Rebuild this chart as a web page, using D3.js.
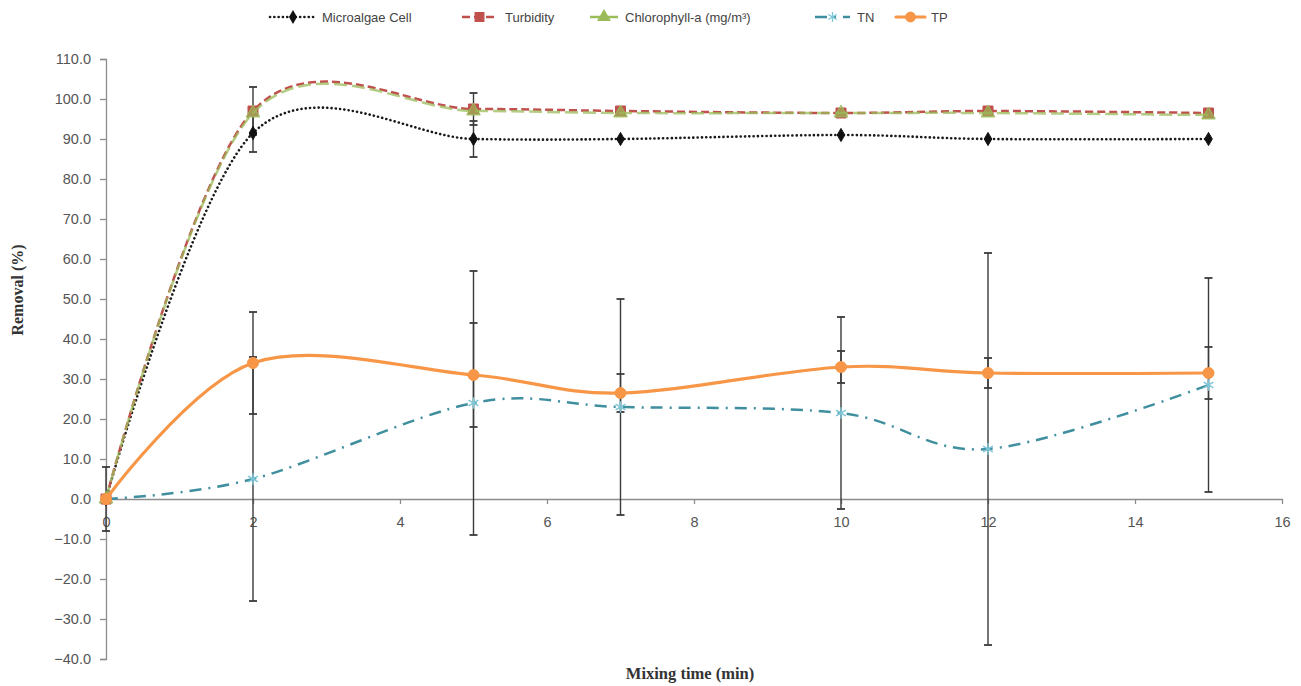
<!DOCTYPE html>
<html>
<head>
<meta charset="utf-8">
<script src="https://cdn.jsdelivr.net/npm/d3@7"></script>
<style>
  html, body { margin: 0; padding: 0; background: #fff; }
  svg { display: block; }
</style>
</head>
<body>
<div id="chart"></div>
<script>
// ---- Data ----
const mixingTime = [0, 2, 5, 7, 10, 12, 15];
const microalgae = [0, 91.5, 90.0, 90.0, 91.0, 90.0, 90.0];
const microalgaeErr = [0, 4.75, 4.5, 0, 0, 0, 0];
const turbidity = [0, 97.0, 97.5, 97.0, 96.5, 97.0, 96.5];
const turbidityErr = [0, 6.0, 4.0, 0, 0, 0, 0];
const chlorophyll = [0, 96.5, 97.0, 96.5, 96.5, 96.5, 96.0];
const chlorophyllErr = [0, 0, 0, 0, 0, 0, 0];
const tn = [0, 5.0, 24.0, 23.0, 21.5, 12.5, 28.5];
const tnErr = [8.0, 30.5, 33.0, 27.0, 24.0, 49.0, 26.75];
const tp = [0, 34.0, 31.0, 26.5, 33.0, 31.5, 31.5];
const tpErr = [0, 12.75, 13.0, 4.75, 4.0, 3.75, 6.5];
const xTicks = [0, 2, 4, 6, 8, 10, 12, 14, 16];
const yTicks = [-40, -30, -20, -10, 0, 10, 20, 30, 40, 50, 60, 70, 80, 90, 100, 110];
const seriesNames = ["Microalgae Cell", "Turbidity", "Chlorophyll-a (mg/m³)", "TN", "TP"];

// ---- Setup ----
const W = 1301, H = 686;
const svg = d3.select("#chart").append("svg").attr("width", W).attr("height", H);
const x = d3.scaleLinear().domain([0, 16]).range([106, 1282]);
const y = d3.scaleLinear().domain([-40, 110]).range([659, 59]);

const series = [
  { name: seriesNames[0], vals: microalgae, err: microalgaeErr, color: "#1a1a1a", dash: "0.1,4.2", width: 2.6, cap: "round", marker: "diamond", mfill: "#111", msize: 50 },
  { name: seriesNames[1], vals: turbidity, err: turbidityErr, color: "#c0504d", dash: "8,4", width: 2.5, cap: "butt", marker: "square", mfill: "#c0504d", msize: 100 },
  { name: seriesNames[2], vals: chlorophyll, err: chlorophyllErr, color: "#9bbb59", dash: "13,5", width: 2.5, cap: "butt", marker: "triangle", mfill: "#9bbb59", msize: 80 },
  { name: seriesNames[3], vals: tn, err: tnErr, color: "#3f8f9f", dash: "12,7,2,7", width: 2.5, cap: "butt", marker: "star", mfill: "none", msize: 90 },
  { name: seriesNames[4], vals: tp, err: tpErr, color: "#f79646", dash: null, width: 3.2, cap: "round", marker: "circle", mfill: "#f79646", msize: 95 }
];

const fontSans = "'Liberation Sans', Arial, sans-serif";
const fontSerif = "'Liberation Serif', 'Times New Roman', serif";
const axisColor = "#8c8c8c";

// ---- Y axis ----
const yAxis = d3.axisLeft(y).tickValues(yTicks).tickFormat(d3.format(".1f")).tickSize(6).tickPadding(9);
const gy = svg.append("g").attr("transform", `translate(${x(0)},0)`).call(yAxis);
gy.select(".domain").attr("stroke", axisColor).attr("stroke-width", 1.3);
gy.selectAll(".tick line").attr("stroke", axisColor).attr("stroke-width", 1.3);
gy.selectAll(".tick text").attr("fill", "#555").style("font-family", fontSans).style("font-size", "14.5px");

// ---- X axis (at y=0) ----
const xAxis = d3.axisBottom(x).tickValues(xTicks).tickFormat(d3.format("d")).tickSize(5).tickPadding(13).tickSizeOuter(0);
const gx = svg.append("g").attr("transform", `translate(0,${y(0)})`).call(xAxis);
gx.select(".domain").attr("stroke", axisColor).attr("stroke-width", 1.3);
gx.selectAll(".tick line").attr("stroke", axisColor).attr("stroke-width", 1.3);
gx.selectAll(".tick text").attr("fill", "#555").style("font-family", fontSans).style("font-size", "14.5px");

// ---- Axis titles ----
svg.append("text").attr("transform", `translate(23,290) rotate(-90)`).attr("text-anchor", "middle")
  .style("font-family", fontSerif).style("font-weight", "bold").style("font-size", "16px").attr("fill", "#333")
  .text("Removal (%)");
svg.append("text").attr("x", 690).attr("y", 679).attr("text-anchor", "middle")
  .style("font-family", fontSerif).style("font-weight", "bold").style("font-size", "16.5px").attr("fill", "#333")
  .text("Mixing time (min)");

// ---- Lines ----
const line = d3.line().x((d, i) => x(mixingTime[i])).y(d => y(d)).curve(d3.curveCardinal.tension(0));

function markerPath(type, size) {
  const map = { diamond: d3.symbolDiamond, square: d3.symbolSquare, triangle: d3.symbolTriangle, star: d3.symbolAsterisk, circle: d3.symbolCircle };
  return d3.symbol().type(map[type]).size(size)();
}

// error bars first (behind lines)
const errG = svg.append("g");
series.forEach(s => {
  s.vals.forEach((v, i) => {
    const e = s.err[i];
    if (!e) return;
    const cx = x(mixingTime[i]);
    const y1 = y(v + e), y2 = y(v - e);
    errG.append("line").attr("x1", cx).attr("x2", cx).attr("y1", y1).attr("y2", y2).attr("stroke", "#3a3a3a").attr("stroke-width", 1.4);
    [y1, y2].forEach(yy => errG.append("line").attr("x1", cx - 4).attr("x2", cx + 4).attr("y1", yy).attr("y2", yy).attr("stroke", "#3a3a3a").attr("stroke-width", 1.8));
  });
});

series.forEach(s => {
  const p = svg.append("path").datum(s.vals).attr("d", line).attr("fill", "none")
    .attr("stroke", s.color).attr("stroke-width", s.width).attr("stroke-linecap", s.cap).attr("stroke-linejoin", "round");
  if (s.dash) p.attr("stroke-dasharray", s.dash);
  if (s.name === seriesNames[2]) p.attr("stroke-opacity", 0.75);
  svg.append("g").selectAll("path").data(s.vals).join("path")
    .attr("transform", (d, i) => `translate(${x(mixingTime[i])},${y(d)})`)
    .attr("d", markerPath(s.marker, s.msize))
    .attr("fill", s.mfill)
    .attr("fill-opacity", s.marker === "triangle" ? 0.65 : 1)
    .attr("stroke", s.marker === "star" ? "#7cc6d8" : s.mfill)
    .attr("stroke-width", s.marker === "star" ? 1.5 : 1);
});

// ---- Legend ----
const legendLayout = [
  { x0: 270, x1: 316, tx: 322 },
  { x0: 462, x1: 497, tx: 505 },
  { x0: 590, x1: 618, tx: 625 },
  { x0: 815, x1: 850, tx: 857 },
  { x0: 896, x1: 925, tx: 931 }
];
const lg = svg.append("g");
series.forEach((s, i) => {
  const L = legendLayout[i];
  const ly = 17;
  const ln = lg.append("line").attr("x1", L.x0).attr("x2", L.x1).attr("y1", ly).attr("y2", ly)
    .attr("stroke", s.color).attr("stroke-width", s.width).attr("stroke-linecap", s.cap);
  if (s.dash) ln.attr("stroke-dasharray", s.dash);
  lg.append("path").attr("transform", `translate(${(L.x0 + L.x1) / 2},${ly})`)
    .attr("d", markerPath(s.marker, s.msize * 0.75))
    .attr("fill", s.mfill)
    .attr("stroke", s.marker === "star" ? "#7cc6d8" : s.mfill).attr("stroke-width", 1.3);
  lg.append("text").attr("x", L.tx).attr("y", ly + 4.5).text(s.name)
    .style("font-family", fontSans).style("font-size", "13px").attr("fill", "#444");
});
</script>
</body>
</html>
